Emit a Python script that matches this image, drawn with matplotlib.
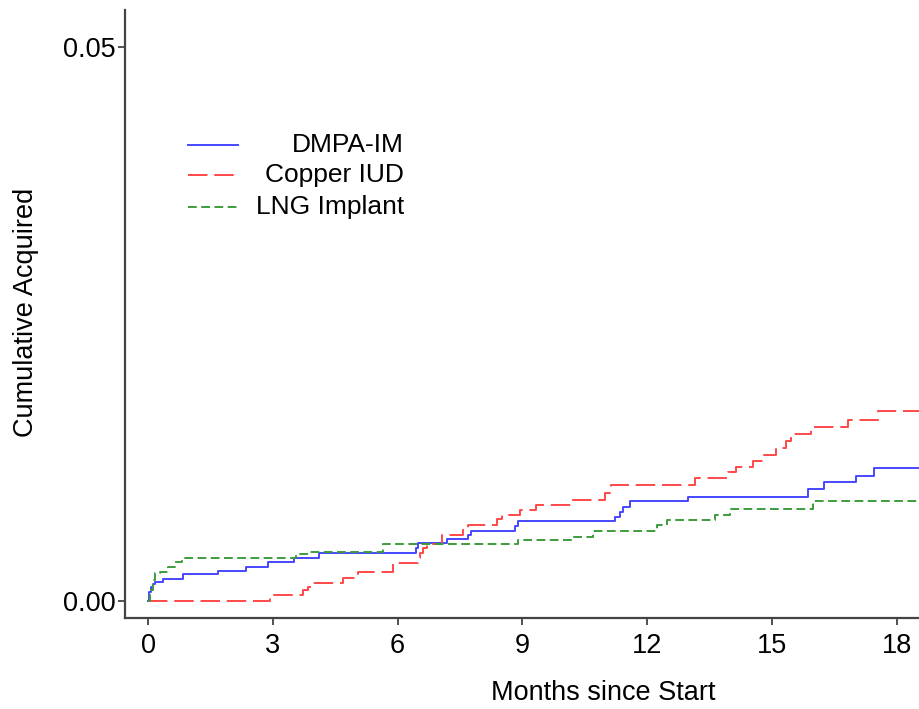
import matplotlib
matplotlib.use("Agg")
import matplotlib.pyplot as plt
from matplotlib.lines import Line2D

plt.rcParams["font.family"] = ["Liberation Sans", "DejaVu Sans"]

# step times (months) and cumulative proportion acquired
dmpa_t = [0, 0.03, 0.07, 0.12, 0.18, 0.35, 0.84, 1.68, 2.36, 2.88, 3.51, 4.11,
          6.44, 6.50, 7.18, 7.70, 7.76, 8.82, 8.90, 11.23, 11.35, 11.43, 11.59,
          12.99, 15.86, 16.26, 17.02, 17.46, 18.6]
dmpa_y = [0, 0.0008, 0.0013, 0.0015, 0.0017, 0.0020, 0.0024, 0.0027, 0.0031,
          0.0035, 0.0039, 0.0043, 0.0048, 0.0052, 0.0056, 0.0060, 0.0063, 0.0068,
          0.0072, 0.0076, 0.0080, 0.0085, 0.0090, 0.0094, 0.0101, 0.0107, 0.0113,
          0.0120, 0.0120]

cu_t = [0, 2.93, 3.73, 3.85, 3.94, 4.68, 5.06, 5.90, 6.49, 6.55, 6.62, 6.70,
        7.06, 7.58, 7.70, 8.38, 8.50, 8.94, 9.34, 10.22, 10.99, 11.12, 13.15,
        13.95, 14.13, 14.55, 14.82, 15.11, 15.33, 15.45, 15.95, 16.83, 17.56, 18.6]
cu_y = [0, 0.0005, 0.0010, 0.0013, 0.0016, 0.0021, 0.0026, 0.0034, 0.0039,
        0.0043, 0.0048, 0.0051, 0.0060, 0.0065, 0.0069, 0.0074, 0.0078, 0.0082,
        0.0087, 0.0091, 0.0097, 0.0105, 0.0111, 0.0116, 0.0121, 0.0126, 0.0132,
        0.0138, 0.0144, 0.0151, 0.0157, 0.0163, 0.0171, 0.0171]

lng_t = [0, 0.05, 0.13, 0.18, 0.29, 0.49, 0.65, 0.81, 3.57, 3.89, 5.66, 8.90,
         10.22, 10.70, 12.24, 12.47, 13.63, 13.99, 15.98, 18.6]
lng_y = [0, 0.0010, 0.0019, 0.0025, 0.0026, 0.0031, 0.0035, 0.0039, 0.0042,
         0.0044, 0.0051, 0.0055, 0.0058, 0.0063, 0.0069, 0.0073, 0.0078, 0.0083,
         0.0090, 0.0090]

labels = ["DMPA-IM", "Copper IUD", "LNG Implant"]
colors = ["#4646ff", "#ff4848", "#3c9c3c"]
dashes = [None, (10, 3.5), (4.5, 2.3)]

fig = plt.figure(figsize=(9.2, 7.09), dpi=100)
ax = fig.add_axes([125 / 920, 91 / 709, 795 / 920, 608 / 709])

series = [(dmpa_t, dmpa_y), (cu_t, cu_y), (lng_t, lng_y)]
for (t, y), c, d in zip(series, colors, dashes):
    line, = ax.step(t, y, where="post", color=c, lw=1.4)
    if d:
        line.set_dashes(d)

ax.set_xlim(-0.553, 18.56)
ax.set_ylim(-0.00153, 0.0533)
ax.set_xticks([0, 3, 6, 9, 12, 15, 18])
ax.set_yticks([0, 0.05])
ax.set_yticklabels(["0.00", "0.05"])
ax.tick_params(labelsize=19.5, length=5, width=1.2, color="#333333")
ax.tick_params(axis="x", pad=6)
ax.tick_params(axis="y", pad=1.5)
for s in ["top", "right"]:
    ax.spines[s].set_visible(False)
for s in ["left", "bottom"]:
    ax.spines[s].set_linewidth(1.6)
    ax.spines[s].set_color("#444444")
ax.set_xlabel("Months since Start", fontsize=19.5, va="top")
ax.xaxis.set_label_coords((603 - 125) / 795, -(680 - 618) / 608)
ax.set_ylabel("Cumulative Acquired", fontsize=19.5)
ax.yaxis.set_label_coords((39 - 125) / 795, 1 - (312 - 10) / 608)

# legend drawn by hand: handles left, labels right aligned
rows_y = [145, 175, 207]
for lab, c, d, py in zip(labels, colors, dashes, rows_y):
    yy = 1 - (py - 10) / 608
    ln = Line2D([(188 - 125) / 795, (238 - 125) / 795], [yy, yy], color=c,
                lw=1.4, transform=ax.transAxes)
    if d:
        ln.set_dashes(d)
    ax.add_line(ln)
    ax.text((404 - 125) / 795, yy, lab, transform=ax.transAxes, ha="right",
            va="center", fontsize=19)

fig.savefig("out.png", dpi=100)
